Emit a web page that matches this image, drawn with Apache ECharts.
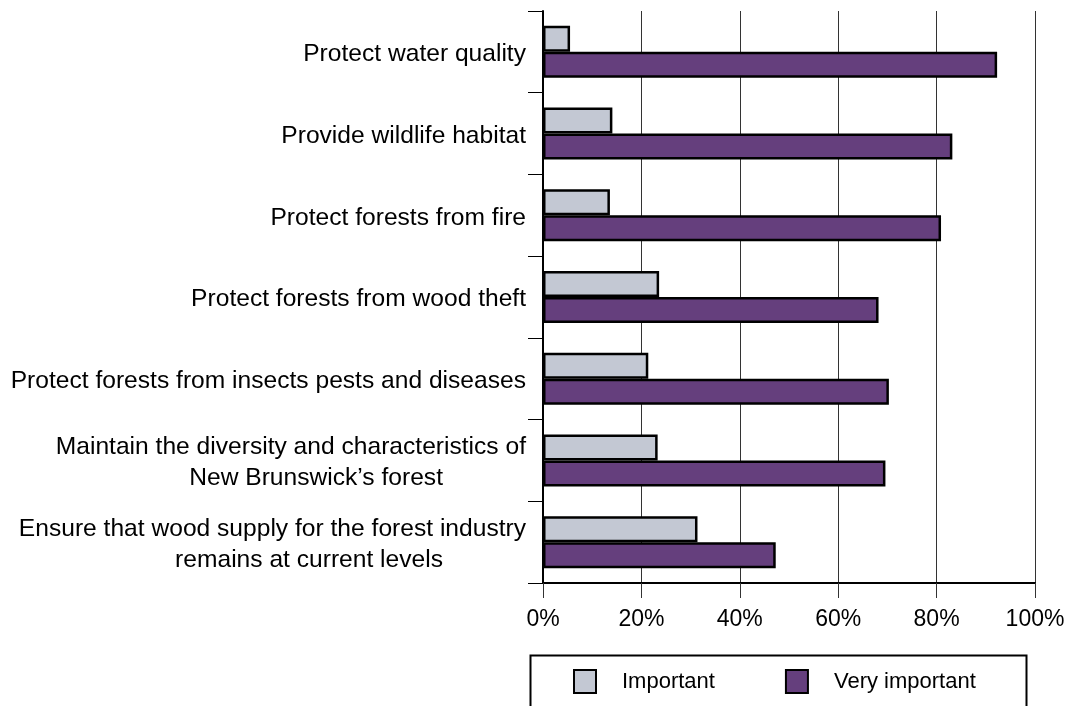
<!DOCTYPE html>
<html>
<head>
<meta charset="utf-8">
<script src="https://cdn.jsdelivr.net/npm/echarts@6/dist/echarts.min.js"></script>
<style>
html,body{margin:0;padding:0;background:#fff;}
#chart{width:1081px;height:706px;}
</style>
</head>
<body>
<div id="chart"></div>
<script>
const categories = [
  "Protect water quality",
  "Provide wildlife habitat",
  "Protect forests from fire",
  "Protect forests from wood theft",
  "Protect forests from insects pests and diseases",
  "Maintain the diversity and characteristics of\nNew Brunswick\u2019s forest",
  "Ensure that wood supply for the forest industry\nremains at current levels"
];
const important = [5.5, 14.1, 13.6, 23.6, 21.4, 23.3, 31.4];
const veryImportant = [92.3, 83.2, 80.9, 68.2, 70.3, 69.6, 47.3];
const xTicks = [0, 20, 40, 60, 80, 100];
const seriesNames = ["Important", "Very important"];

const FONT = "'Liberation Sans', Arial, Helvetica, sans-serif";
const chart = echarts.init(document.getElementById('chart'), null, {renderer: 'canvas'});
chart.setOption({
  backgroundColor: '#ffffff',
  animation: false,
  textStyle: {fontFamily: FONT, color: '#000'},
  grid: {left: 543, right: 46, top: 11, bottom: 123, containLabel: false},
  xAxis: {
    type: 'value', min: xTicks[0], max: xTicks[xTicks.length - 1], interval: 20,
    axisLine: {show: true, lineStyle: {color: '#000', width: 2}},
    axisTick: {show: true, length: 15, lineStyle: {color: '#333', width: 1}},
    axisLabel: {fontSize: 23, color: '#000', fontFamily: FONT, margin: 25, formatter: v => v + '%'},
    splitLine: {show: true, lineStyle: {color: '#333', width: 1}}
  },
  yAxis: {
    type: 'category', data: categories, inverse: true,
    axisLine: {show: true, lineStyle: {color: '#000', width: 2}},
    axisTick: {show: true, length: 15, lineStyle: {color: '#000', width: 1}},
    axisLabel: {
      fontSize: 24.6, color: '#000', fontFamily: FONT, margin: 17, lineHeight: 31, align: 'right',
      padding: [5, 0, 0, 0],
      formatter: function (v) {
        const parts = v.split('\n');
        if (parts.length === 1) return '{a|' + parts[0] + '}';
        return '{a|' + parts[0] + '}\n{b|' + parts[1] + '}';
      },
      rich: {
        a: {fontSize: 24.6, fontFamily: FONT, color: '#000', lineHeight: 31},
        b: {fontSize: 24.6, fontFamily: FONT, color: '#000', lineHeight: 31, padding: [0, 83, 0, 0]}
      }
    }
  },
  legend: {
    data: seriesNames,
    left: 573, top: 669, padding: 0, icon: 'rect',
    itemWidth: 22, itemHeight: 23, itemGap: 70,
    textStyle: {fontSize: 22, color: '#000', fontFamily: FONT, padding: [0, 0, 0, 21]}
  },
  graphic: [{
    type: 'rect', left: 528, top: 653,
    shape: {width: 496, height: 56},
    style: {fill: 'none', stroke: '#000', lineWidth: 2}
  }],
  series: [
    {
      name: seriesNames[0], type: 'bar', data: important, barWidth: 26, barGap: '0%',
      itemStyle: {color: '#c3c8d3', borderColor: '#000', borderWidth: 2.5}
    },
    {
      name: seriesNames[1], type: 'bar', data: veryImportant, barWidth: 26, barGap: '0%',
      itemStyle: {color: '#653f7d', borderColor: '#000', borderWidth: 2.5}
    }
  ]
});
</script>
</body>
</html>
